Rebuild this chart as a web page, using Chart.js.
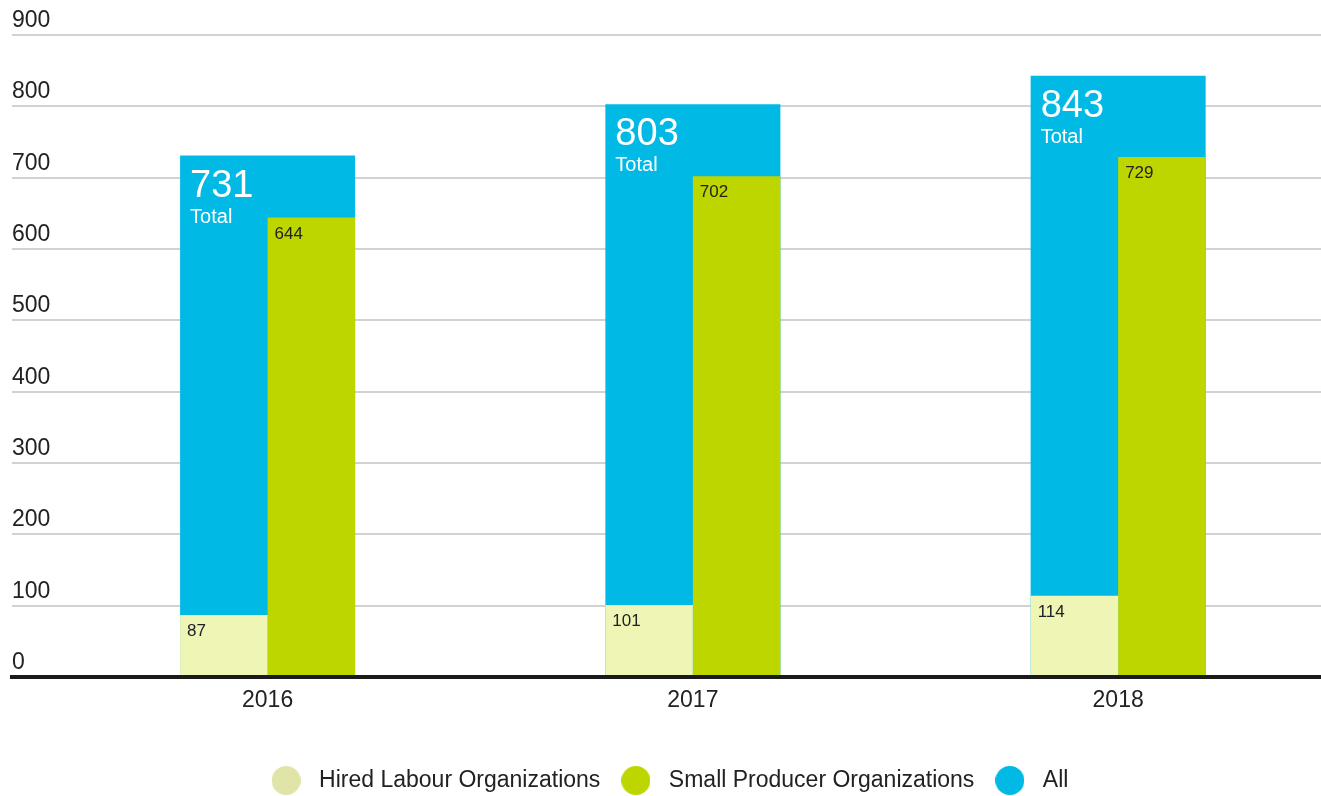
<!DOCTYPE html>
<html lang="en">
<head>
  <meta charset="UTF-8">
  <title>Fairtrade certified producer organizations</title>
  <script src="https://cdn.jsdelivr.net/npm/chart.js"></script>
  <style>
    html, body { margin: 0; padding: 0; background: #fff; }
    #wrap { width: 1321px; height: 796px; position: relative; }
  </style>
</head>
<body>
  <div id="wrap"><canvas id="chart"></canvas></div>

  <script>
    // data
    const years = [2016, 2017, 2018];
    const hiredLabour = [87, 101, 114];
    const smallProducer = [644, 702, 729];
    const allOrgs = [731, 803, 843];
    const seriesNames = ['Hired Labour Organizations', 'Small Producer Organizations', 'All'];

    const FONT = '"Liberation Sans", Arial, Helvetica, sans-serif';
    const TEXT = '#222';
    const barColors = ['#eef5b5', '#bed600', '#00b9e4'];
    const dotColors = ['#e1e4a8', '#bed600', '#00b9e4'];

    // x range chosen so the three years sit where the groups should be
    const xMin = 2015.399, xMax = 2018.477;
    const groupPct = 0.4115;

    function dot(color) {
      const c = document.createElement('canvas');
      c.width = 29; c.height = 29;
      const g = c.getContext('2d');
      g.fillStyle = color;
      g.beginPath();
      g.arc(14.5, 14.5, 14.5, 0, Math.PI * 2);
      g.fill();
      return c;
    }

    // numbers written inside the top-left corner of each bar
    const valueLabels = {
      id: 'valueLabels',
      afterDatasetsDraw(chart) {
        const ctx = chart.ctx;
        ctx.save();
        ctx.textAlign = 'left';
        ctx.textBaseline = 'alphabetic';
        chart.data.datasets.forEach((ds, i) => {
          chart.getDatasetMeta(i).data.forEach((bar, j) => {
            const left = bar.x - bar.width / 2;
            const top = bar.y;
            if (ds.isTotal) {
              ctx.fillStyle = '#fff';
              ctx.font = '38px ' + FONT;
              ctx.fillText(ds.data[j], left + 10, top + 41);
              ctx.font = '20px ' + FONT;
              ctx.fillText('Total', left + 10, top + 67);
            } else {
              ctx.fillStyle = TEXT;
              ctx.font = '17px ' + FONT;
              ctx.fillText(ds.data[j], left + 7, top + 21);
            }
          });
        });
        ctx.restore();
      }
    };

    new Chart(document.getElementById('chart'), {
      type: 'bar',
      data: {
        labels: years,
        datasets: [
          { label: seriesNames[0], data: hiredLabour, backgroundColor: barColors[0],
            categoryPercentage: groupPct, barPercentage: 1 },
          { label: seriesNames[1], data: smallProducer, backgroundColor: barColors[1],
            categoryPercentage: groupPct, barPercentage: 1 },
          // total bar sits behind the pair and spans both
          { label: seriesNames[2], data: allOrgs, backgroundColor: barColors[2],
            grouped: false, isTotal: true, categoryPercentage: groupPct, barPercentage: 1 }
        ]
      },
      options: {
        responsive: true,
        maintainAspectRatio: false,
        animation: false,
        layout: { padding: { top: 35, left: 12, right: 0, bottom: -6 } },
        scales: {
          x: {
            type: 'linear',
            offset: false,
            min: xMin,
            max: xMax,
            grid: { display: false, offset: false },
            border: { display: true, color: '#1a1a1a', width: 4, z: 1 },
            afterBuildTicks: s => { s.ticks = years.map(v => ({ value: v })); },
            afterFit: s => { s.height = 78; },
            ticks: {
              padding: 2,
              color: TEXT,
              font: { family: FONT, size: 23 },
              callback: v => String(v)
            }
          },
          y: {
            min: 0,
            max: 900,
            border: { display: false },
            grid: {
              drawTicks: false,
              lineWidth: 2,
              color: c => c.tick && c.tick.value === 0 ? 'rgba(0,0,0,0)' : '#d2d2d2'
            },
            ticks: {
              stepSize: 100,
              mirror: true,
              padding: 0,
              labelOffset: -14.5,
              color: TEXT,
              font: { family: FONT, size: 23 }
            }
          }
        },
        plugins: {
          tooltip: { enabled: false },
          legend: {
            position: 'bottom',
            labels: {
              usePointStyle: true,
              pointStyleWidth: 43,
              boxHeight: 23,
              padding: 14,
              color: TEXT,
              font: { family: FONT, size: 23 },
              generateLabels: chart => chart.data.datasets.map((ds, i) => ({
                text: ds.label,
                pointStyle: dot(dotColors[i]),
                fillStyle: dotColors[i],
                strokeStyle: 'rgba(0,0,0,0)',
                lineWidth: 0,
                fontColor: TEXT,
                hidden: !chart.isDatasetVisible(i),
                datasetIndex: i
              }))
            }
          }
        }
      },
      plugins: [valueLabels]
    });
  </script>
</body>
</html>
